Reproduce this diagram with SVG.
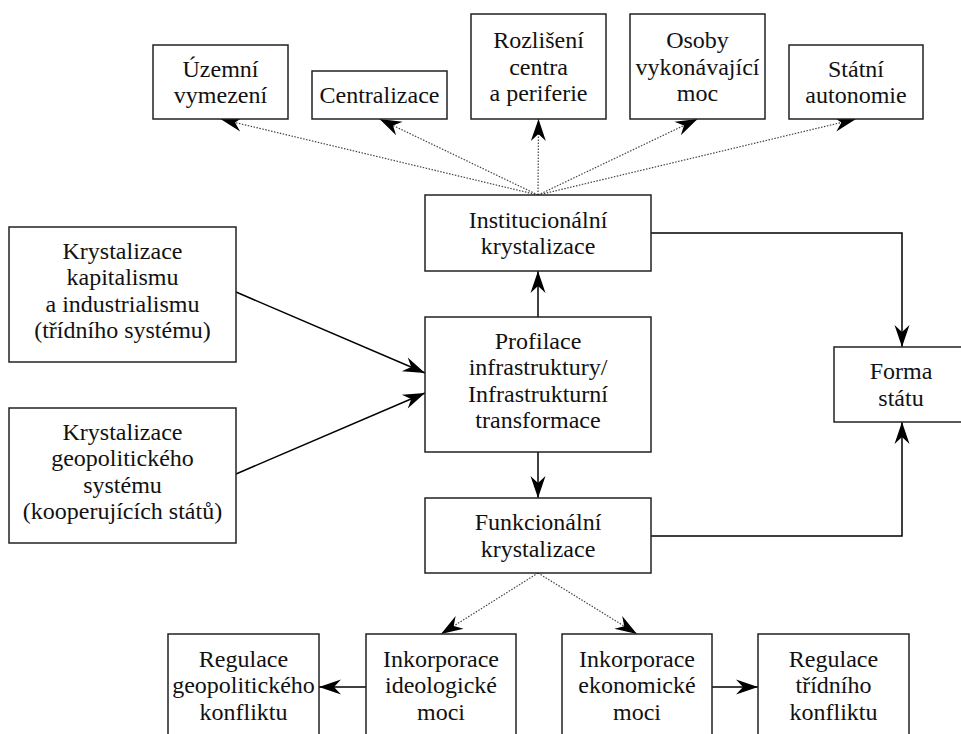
<svg xmlns="http://www.w3.org/2000/svg" width="961" height="734" viewBox="0 0 961 734">
<style>
.box{fill:#fff;stroke:#222;stroke-width:1.5}
.c{fill:none;stroke:#000;stroke-width:1.5}
.d{fill:none;stroke:#444;stroke-width:1.2;stroke-dasharray:1.5 1.5}
</style>
<defs>
<marker id="ah" viewBox="-24 -10 26 20" markerWidth="26" markerHeight="20" refX="0" refY="0" orient="auto" markerUnits="userSpaceOnUse">
<path d="M0,0 L-22,-7.5 L-15,0 L-22,7.5 Z" fill="#000"/>
</marker>
</defs>
<rect width="961" height="734" fill="#fff"/>
<g id="connectors">
<path class="c" d="M236,292 L425,373" marker-end="url(#ah)"/>
<path class="c" d="M236,474 L425,393" marker-end="url(#ah)"/>
<path class="c" d="M538,317 L538,271" marker-end="url(#ah)"/>
<path class="c" d="M538,452 L538,498" marker-end="url(#ah)"/>
<path class="c" d="M651,233 H902 V347" marker-end="url(#ah)"/>
<path class="c" d="M651,536 H902 V422" marker-end="url(#ah)"/>
<path class="c" d="M366,687 H319" marker-end="url(#ah)"/>
<path class="c" d="M712,687 H758" marker-end="url(#ah)"/>
<path class="d" d="M538,195 L220.5,119" marker-end="url(#ah)"/>
<path class="d" d="M538,195 L379.5,119" marker-end="url(#ah)"/>
<path class="d" d="M538,195 L538.5,119" marker-end="url(#ah)"/>
<path class="d" d="M538,195 L697.5,119" marker-end="url(#ah)"/>
<path class="d" d="M538,195 L856,119" marker-end="url(#ah)"/>
<path class="d" d="M538,573 L441,634" marker-end="url(#ah)"/>
<path class="d" d="M538,573 L637,634" marker-end="url(#ah)"/>
</g>
<g font-family="Liberation Serif, DejaVu Serif, serif" font-size="24" text-anchor="middle" fill="#111">
<g id="uzemni"><rect class="box" x="153" y="45" width="135" height="74"/>
<text x="220.5" y="76.75">Územní</text><text x="220.5" y="103.25">vymezení</text></g>
<g id="centralizace"><rect class="box" x="312" y="71" width="135" height="48"/>
<text x="379.5" y="103">Centralizace</text></g>
<g id="rozliseni"><rect class="box" x="471" y="14" width="135" height="105"/>
<text x="538.5" y="48">Rozlišení</text><text x="538.5" y="74.5">centra</text><text x="538.5" y="101">a periferie</text></g>
<g id="osoby"><rect class="box" x="630" y="14" width="135" height="105"/>
<text x="697.5" y="48">Osoby</text><text x="697.5" y="74.5">vykonávající</text><text x="697.5" y="101">moc</text></g>
<g id="statni"><rect class="box" x="789" y="45" width="134" height="74"/>
<text x="856" y="76.75">Státní</text><text x="856" y="103.25">autonomie</text></g>
<g id="institucionalni"><rect class="box" x="425" y="195" width="226" height="76"/>
<text x="538" y="227.75">Institucionální</text><text x="538" y="254.25">krystalizace</text></g>
<g id="profilace"><rect class="box" x="425" y="317" width="226" height="135"/>
<text x="538" y="348.75">Profilace</text><text x="538" y="375.25">infrastruktury/</text><text x="538" y="401.75">Infrastrukturní</text><text x="538" y="428.25">transformace</text></g>
<g id="kapitalismus"><rect class="box" x="9" y="227" width="227" height="135"/>
<text x="122.5" y="258.75">Krystalizace</text><text x="122.5" y="285.25">kapitalismu</text><text x="122.5" y="311.75">a industrialismu</text><text x="122.5" y="338.25">(třídního systému)</text></g>
<g id="geopoliticky"><rect class="box" x="9" y="408" width="227" height="135"/>
<text x="122.5" y="439.75">Krystalizace</text><text x="122.5" y="466.25">geopolitického</text><text x="122.5" y="492.75">systému</text><text x="122.5" y="519.25">(kooperujících států)</text></g>
<g id="forma"><rect class="box" x="834" y="347" width="134" height="75"/>
<text x="901" y="379.25">Forma</text><text x="901" y="405.75">státu</text></g>
<g id="funkcionalni"><rect class="box" x="425" y="498" width="226" height="75"/>
<text x="538" y="530.25">Funkcionální</text><text x="538" y="556.75">krystalizace</text></g>
<g id="regulace-geo"><rect class="box" x="168" y="634" width="151" height="103"/>
<text x="243.5" y="667">Regulace</text><text x="243.5" y="693">geopolitického</text><text x="243.5" y="719.5">konfliktu</text></g>
<g id="inkorporace-ideo"><rect class="box" x="366" y="634" width="150" height="103"/>
<text x="441" y="667">Inkorporace</text><text x="441" y="693">ideologické</text><text x="441" y="719.5">moci</text></g>
<g id="inkorporace-eko"><rect class="box" x="562" y="634" width="150" height="103"/>
<text x="637" y="667">Inkorporace</text><text x="637" y="693">ekonomické</text><text x="637" y="719.5">moci</text></g>
<g id="regulace-trid"><rect class="box" x="758" y="634" width="151" height="103"/>
<text x="833.5" y="667">Regulace</text><text x="833.5" y="693">třídního</text><text x="833.5" y="719.5">konfliktu</text></g>
</g>
</svg>
